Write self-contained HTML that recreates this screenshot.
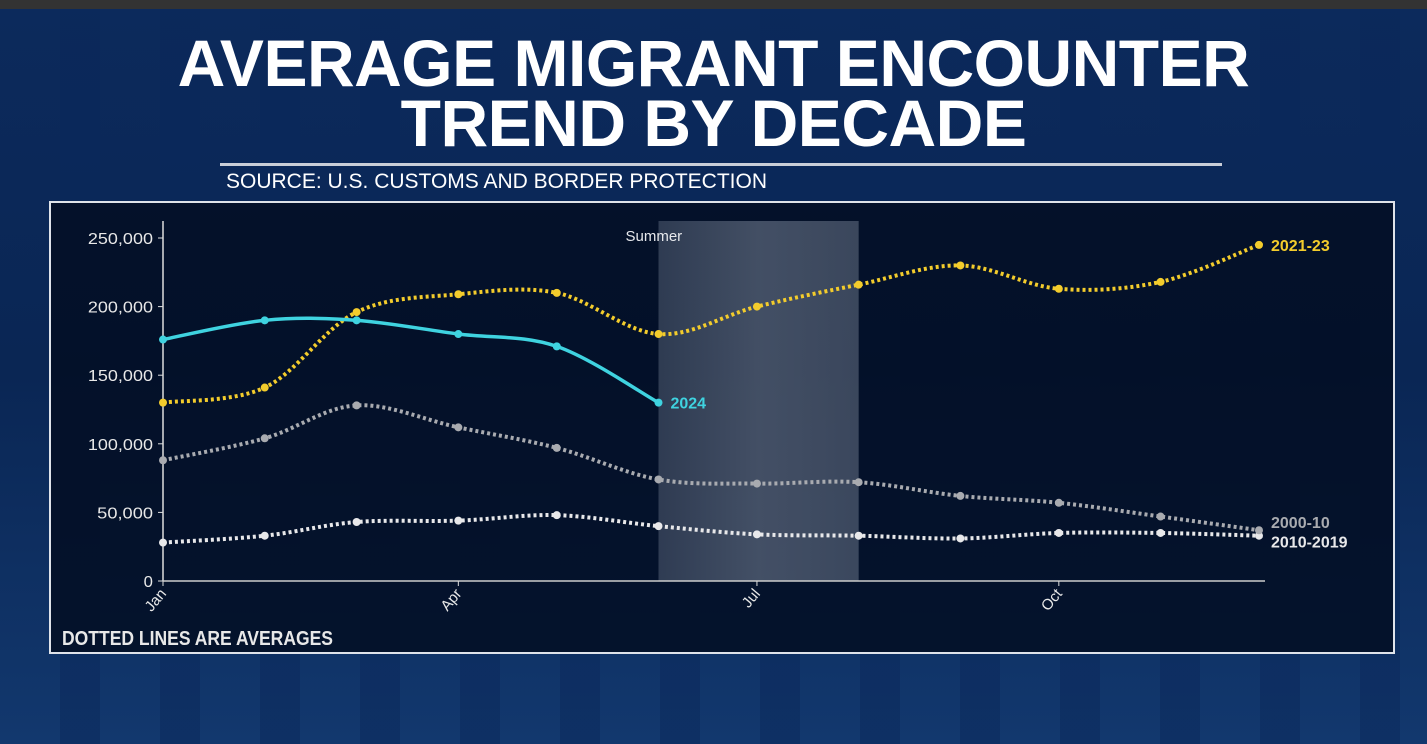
<!DOCTYPE html>
<html><head><meta charset="utf-8">
<style>
html,body{margin:0;padding:0;width:1427px;height:744px;overflow:hidden;background:#0b2350;font-family:"Liberation Sans",sans-serif}
#bg{position:absolute;left:0;top:0;width:1427px;height:744px;
background:
repeating-linear-gradient(90deg,rgba(0,0,0,0) 0px,rgba(0,0,0,0) 60px,rgba(10,40,90,0.5) 60px,rgba(10,40,90,0.5) 100px),
linear-gradient(180deg,#0c2a5c 0%,#0a2654 50%,#12386e 100%)}
#topbar{position:absolute;left:0;top:0;width:1427px;height:9px;background:#333}
h1{position:absolute;left:0;width:1427px;margin:0;text-align:center;color:#fff;font-weight:900;font-size:66px;line-height:60px;letter-spacing:-0.5px;top:33px}
#rule{position:absolute;left:220px;top:163px;width:1002px;height:3px;background:#c9ced8}
#src{position:absolute;left:226px;top:170px;color:#fff;font-size:21px}
#box{position:absolute;left:49px;top:201px;width:1342px;height:449px;border:2px solid #dfe3ea;background:rgba(3,12,32,0.82)}
svg{position:absolute;left:0;top:0}
</style></head><body>
<div id="bg"></div>
<div id="topbar"></div>
<h1>AVERAGE MIGRANT ENCOUNTER<br>TREND BY DECADE</h1>
<div id="rule"></div>
<div id="src">SOURCE: U.S. CUSTOMS AND BORDER PROTECTION</div>
<div id="box"></div>
<svg id="chart" width="1427" height="744"></svg>
<script>
const months=["Jan","Feb","Mar","Apr","May","Jun","Jul","Aug","Sep","Oct","Nov","Dec"];
const monthDays=[0,31,59,90,120,151,181,212,243,273,304,334];
const s2021=[130000,141000,196000,209000,210000,180000,200000,216000,230000,213000,218000,245000];
const s2024=[176000,190000,190000,180000,171000,130000];
const s2000=[88000,104000,128000,112000,97000,74000,71000,72000,62000,57000,47000,37000];
const s2010=[28000,33000,43000,44000,48000,40000,34000,33000,31000,35000,35000,33000];
const yTicks=[0,50000,100000,150000,200000,250000];
const xTickMonths=["Jan","Apr","Jul","Oct"];
const NS="http://www.w3.org/2000/svg";
const svg=document.getElementById('chart');
const x=d=>163+d*(1096/334);
const y=v=>581-v*(343/250000);
function mk(t,a){const e=document.createElementNS(NS,t);for(const k in a)e.setAttribute(k,a[k]);svg.appendChild(e);return e;}
const defs=mk('defs',{});
defs.innerHTML='<linearGradient id="sg" x1="0" x2="1" y1="0" y2="0"><stop offset="0" stop-color="rgba(200,210,225,0.22)"/><stop offset="0.5" stop-color="rgba(200,210,225,0.32)"/><stop offset="1" stop-color="rgba(200,210,225,0.28)"/></linearGradient>';
let b=mk('rect',{x:x(monthDays[5]),y:221,width:x(monthDays[7])-x(monthDays[5]),height:581-221,fill:'url(#sg)'});


let st=mk('text',{x:x(monthDays[5])-33,y:241,fill:'#e6e8ec','font-size':15,'font-family':'Liberation Sans, sans-serif'});
st.textContent='Summer';


let ya=mk('line',{x1:163,y1:221,x2:163,y2:581,stroke:'#ddd','stroke-width':1.5});


let xa=mk('line',{x1:163,y1:581,x2:1265,y2:581,stroke:'#ccc','stroke-width':1.5});


yTicks.forEach(v=>{
 mk('line',{x1:158,y1:y(v),x2:163,y2:y(v),stroke:'#ddd'});
 const s=v.toLocaleString('en-US');
 const t=mk('text',{x:153,y:y(v)+6,fill:'#e8e8e8','font-size':16,'text-anchor':'end',textLength:s.length*9.3,lengthAdjust:'spacingAndGlyphs'});
 t.textContent=s;
 
 
});
xTickMonths.forEach(m=>{
 const xx=x(monthDays[months.indexOf(m)]);
 mk('line',{x1:xx,y1:581,x2:xx,y2:586,stroke:'#ddd'});
 const t=mk('text',{x:xx+4,y:594,fill:'#e8e8e8','font-size':15,'text-anchor':'end',transform:`rotate(-50 ${xx+4} 594)`});
 t.textContent=m;
 
 
});
function path(vals){
 const p=vals.map((v,i)=>[x(monthDays[i]),y(v)]);
 let d=`M${p[0][0]},${p[0][1]}`;
 for(let i=0;i<p.length-1;i++){
  const p0=p[i-1]||p[i],p1=p[i],p2=p[i+1],p3=p[i+2]||p2;
  const c1=[p1[0]+(p2[0]-p0[0])/6,p1[1]+(p2[1]-p0[1])/6];
  const c2=[p2[0]-(p3[0]-p1[0])/6,p2[1]-(p3[1]-p1[1])/6];
  d+=` C${c1[0]},${c1[1]} ${c2[0]},${c2[1]} ${p2[0]},${p2[1]}`;
 }
 return d;
}
function series(vals,color,dotted,name,label,ly){
 const ln=mk('path',{d:path(vals),fill:'none',stroke:color,'stroke-width':dotted?4:3.5,'stroke-dasharray':dotted?'3 3':'none'});
 
 
 vals.forEach((v,i)=>{
  const c=mk('circle',{cx:x(monthDays[i]),cy:y(v),r:4,fill:color});
  
  
 });
 const lx=x(monthDays[vals.length-1]);
 const t=mk('text',{x:lx+12,y:(ly!==undefined?ly:y(vals[vals.length-1]))+6,fill:color,'font-size':16,'font-weight':'bold'});
 t.textContent=label;
 
 
}
series(s2010,'#e8e8ea',true,'series-2010-2019','2010-2019',y(s2010[11])+6);
series(s2000,'#a9abb0',true,'series-2000-10','2000-10',y(s2000[11])-8);
series(s2021,'#f3cc2c',true,'series-2021-23','2021-23');
series(s2024,'#3fd3e0',false,'series-2024','2024');
const n=mk('text',{x:62,y:645,fill:'#e8e8e8','font-size':20,'font-weight':'bold',textLength:271,lengthAdjust:'spacingAndGlyphs'});
n.textContent='DOTTED LINES ARE AVERAGES';


</script>
</body></html>
